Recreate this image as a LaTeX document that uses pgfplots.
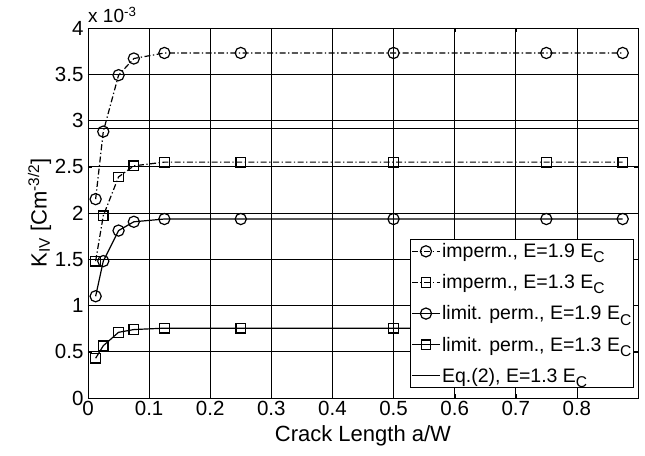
\documentclass[border=0pt]{standalone}
\usepackage{fontspec}
\setmainfont{Liberation Sans}
\usepackage{pgfplots}
\pgfplotsset{compat=1.18}
\newcommand{\sub}[1]{\raisebox{-0.5ex}{\fontsize{0.8em}{1em}\selectfont #1}}
\begin{document}
\begin{tikzpicture}[x=1pt,y=1pt]
\begin{axis}[
  name=ax,
  scale only axis,
  width=550pt, height=370pt,
  xmin=0, xmax=0.9, ymin=0, ymax=4,
  xtick={0,0.1,0.2,0.3,0.4,0.5,0.6,0.7,0.8},
  ytick={0,0.5,1,1.5,2,2.5,3,3.5,4},
  xticklabels={0,0.1,0.2,0.3,0.4,0.5,0.6,0.7,0.8},
  yticklabels={0,0.5,1,1.5,2,2.5,3,3.5,4},
  tick align=inside,
  grid=major,
  major grid style={black, line width=0.7pt},
  axis line style={black, line width=0.9pt},
  tick style={black},
  ticklabel style={font=\fontsize{20.5}{24}\selectfont},
  yticklabel style={xshift=-1pt},
  /pgf/number format/assume math mode=true,
  xlabel={Crack Length a/W},
  ylabel={K\textsubscript{IV} [Cm\textsuperscript{-3/2}]},
  label style={font=\fontsize{22}{25}\selectfont},
  xlabel style={yshift=-3pt},
  ylabel style={yshift=-3pt},
  legend style={at={(0.993,0.027)}, anchor=south east, draw=black, line width=0.7pt,
    font=\fontsize{19.5}{22}\selectfont, row sep=15.5pt, inner xsep=1pt, inner ysep=4pt,
    cells={anchor=west}, nodes={inner xsep=1.5pt, inner ysep=0pt}},
  legend image code/.code={
    \draw[mark repeat=2,mark phase=2,#1] plot coordinates {(0pt,0pt) (14pt,0pt) (28pt,0pt)};
  },
  every axis plot/.append style={black, line width=1.2pt},
]
\addplot[dash pattern=on 6pt off 2.5pt on 1.3pt off 2.5pt, mark=o, mark size=5.6pt, mark options={solid}] coordinates {
(0.0125,2.15) (0.025,2.88) (0.05,3.49) (0.075,3.67) (0.125,3.73) (0.25,3.73) (0.5,3.73) (0.75,3.73) (0.875,3.73)};
\addlegendentry{imperm., E=1.9 E\sub{C}}
\addplot[dash pattern=on 6pt off 2.5pt on 1.3pt off 2.5pt, mark=square, mark size=4.8pt, mark options={solid}] coordinates {
(0.0125,1.48) (0.025,1.97) (0.05,2.39) (0.075,2.51) (0.125,2.55) (0.25,2.55) (0.5,2.55) (0.75,2.55) (0.875,2.55)};
\addlegendentry{imperm., E=1.3 E\sub{C}}
\addplot[solid, mark=o, mark size=5.6pt] coordinates {
(0.0125,1.10) (0.025,1.48) (0.05,1.81) (0.075,1.905) (0.125,1.935) (0.25,1.935) (0.5,1.935) (0.75,1.935) (0.875,1.935)};
\addlegendentry{limit. perm., E=1.9 E\sub{C}}
\addplot[solid, mark=square, mark size=4.8pt] coordinates {
(0.0125,0.43) (0.025,0.565) (0.05,0.71) (0.075,0.74) (0.125,0.755) (0.25,0.755) (0.5,0.755) (0.75,0.755) (0.875,0.755)};
\addlegendentry{limit. perm., E=1.3 E\sub{C}}
\addplot[solid, line width=1.3pt] coordinates {(0,2.91) (0.9,2.91)};
\addlegendentry{Eq.(2), E=1.3 E\sub{C}}
\end{axis}
\node[anchor=south west, font=\fontsize{19}{22}\selectfont, inner sep=0pt] at ([xshift=0pt,yshift=5pt]ax.north west) {x 10\textsuperscript{-3}};
\pgfresetboundingbox
\path ([shift={(-88pt,-57pt)}]ax.south west) rectangle ([shift={(557pt,398pt)}]ax.south west);
\end{tikzpicture}
\end{document}
